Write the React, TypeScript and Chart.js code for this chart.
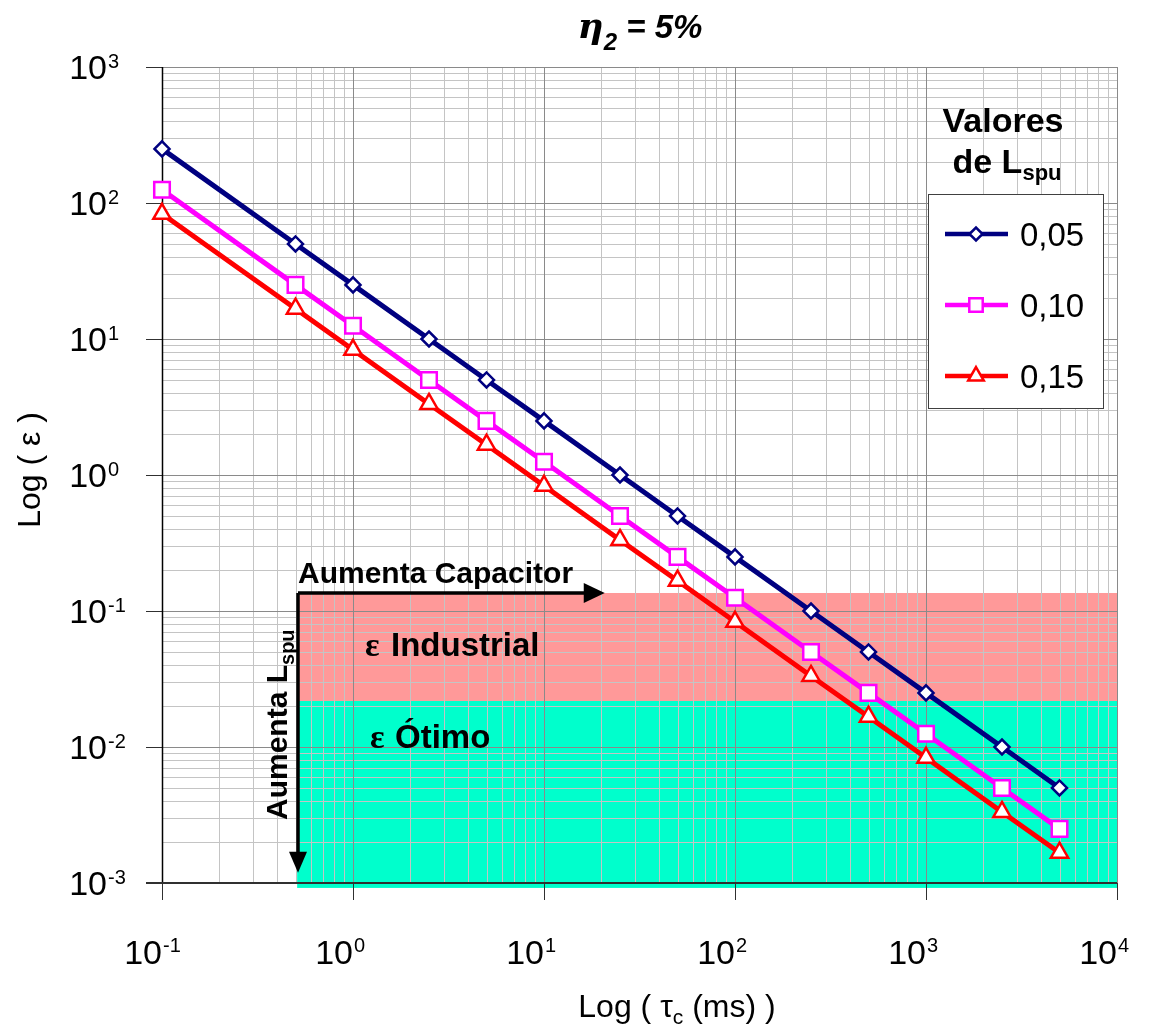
import React, { useEffect, useRef } from 'react';
import { Chart, registerables } from 'chart.js';
Chart.register(...registerables);

// ---- data ----
const tauMs = [0.1, 0.5, 1, 2.5, 5, 10, 25, 50, 100, 250, 500, 1000, 2500, 5000];
const eps005 = [250, 50, 25, 10, 5, 2.5, 1, 0.5, 0.25, 0.1, 0.05, 0.025, 0.01, 0.005];
const eps010 = [125, 25, 12.5, 5, 2.5, 1.25, 0.5, 0.25, 0.125, 0.05, 0.025, 0.0125, 0.005, 0.0025];
const eps015 = [83.3, 16.7, 8.33, 3.33, 1.67, 0.833, 0.333, 0.167, 0.0833, 0.0333, 0.0167, 0.00833, 0.00333, 0.00167];
const seriesLabels = ['0,05', '0,10', '0,15'];
const seriesColors = ['#000080', '#FF00FF', '#FF0000'];
const seriesMarkers = ['rectRot', 'rect', 'triangle'];
const xDecades = [-1, 0, 1, 2, 3, 4];
const yDecades = [-3, -2, -1, 0, 1, 2, 3];
// shaded regions (x from, x to) and (y low, y high)
const bandX = [0.51, 10000];
const industrialY = [0.0218, 0.1356];
const otimoY = [0.00092, 0.0218];
// arrow end points
const arrowCapEndX = 20.8;
const arrowLEndY = 0.00119;

const FONT = '"Liberation Sans", Arial, sans-serif';

function drawMarker(ctx: CanvasRenderingContext2D, style: string, x: number, y: number, r: number, color: string, bw: number) {
  ctx.save();
  ctx.beginPath();
  if (style === 'rectRot') {
    ctx.moveTo(x - r, y);
    ctx.lineTo(x, y - r);
    ctx.lineTo(x + r, y);
    ctx.lineTo(x, y + r);
    ctx.closePath();
  } else if (style === 'rect') {
    const h = r * Math.SQRT1_2;
    ctx.rect(x - h, y - h, 2 * h, 2 * h);
  } else {
    const w = r * Math.sin(Math.PI / 3);
    ctx.moveTo(x, y - r);
    ctx.lineTo(x + w, y + r / 2);
    ctx.lineTo(x - w, y + r / 2);
    ctx.closePath();
  }
  ctx.fillStyle = '#fff';
  ctx.fill();
  ctx.lineWidth = bw;
  ctx.strokeStyle = color;
  ctx.stroke();
  ctx.restore();
}

const decor = {
  id: 'decor',
  beforeDatasetsDraw(chart: any) {
    const { ctx, chartArea: ca, scales } = chart;
    const xs = scales.x, ys = scales.y;
    const X = (v: number) => xs.getPixelForValue(v);
    const Y = (v: number) => ys.getPixelForValue(v);
    const crisp = (p: number) => Math.round(p) + 0.5;
    ctx.save();

    // bands
    const bx0 = X(bandX[0]), bx1 = X(bandX[1]);
    ctx.fillStyle = '#FF9999';
    ctx.fillRect(bx0, Y(industrialY[1]), bx1 - bx0, Y(industrialY[0]) - Y(industrialY[1]));
    ctx.fillStyle = '#00FFCC';
    ctx.fillRect(bx0, Y(otimoY[1]), bx1 - bx0, Y(otimoY[0]) - Y(otimoY[1]));

    // minor grid
    ctx.lineWidth = 1;
    ctx.strokeStyle = '#c4c4c4';
    ctx.beginPath();
    for (let i = 0; i < xDecades.length - 1; i++) {
      for (let k = 2; k <= 9; k++) {
        const px = crisp(X(k * Math.pow(10, xDecades[i])));
        ctx.moveTo(px, ca.top);
        ctx.lineTo(px, ca.bottom);
      }
    }
    for (let i = 0; i < yDecades.length - 1; i++) {
      for (let k = 2; k <= 9; k++) {
        const py = crisp(Y(k * Math.pow(10, yDecades[i])));
        ctx.moveTo(ca.left, py);
        ctx.lineTo(ca.right, py);
      }
    }
    ctx.stroke();

    // major grid
    ctx.strokeStyle = '#8a8a8a';
    ctx.beginPath();
    xDecades.forEach((n) => {
      const px = crisp(X(Math.pow(10, n)));
      ctx.moveTo(px, ca.top);
      ctx.lineTo(px, ca.bottom);
    });
    yDecades.forEach((n) => {
      const py = crisp(Y(Math.pow(10, n)));
      ctx.moveTo(ca.left, py);
      ctx.lineTo(ca.right, py);
    });
    ctx.stroke();

    // tick marks
    ctx.strokeStyle = '#303030';
    ctx.beginPath();
    xDecades.forEach((n) => {
      const px = crisp(X(Math.pow(10, n)));
      ctx.moveTo(px, ca.bottom);
      ctx.lineTo(px, ca.bottom + 17);
    });
    yDecades.forEach((n) => {
      const py = crisp(Y(Math.pow(10, n)));
      ctx.moveTo(ca.left - 16, py);
      ctx.lineTo(ca.left, py);
    });
    ctx.stroke();

    // axes
    ctx.strokeStyle = '#000';
    ctx.lineWidth = 1.5;
    ctx.beginPath();
    ctx.moveTo(ca.left + 0.5, ca.top);
    ctx.lineTo(ca.left + 0.5, ca.bottom);
    ctx.stroke();
    ctx.strokeStyle = '#303030';
    ctx.lineWidth = 2;
    ctx.beginPath();
    ctx.moveTo(ca.left - 16, Math.round(ca.bottom));
    ctx.lineTo(ca.right, Math.round(ca.bottom));
    ctx.stroke();

    // tick labels
    ctx.fillStyle = '#000';
    ctx.textBaseline = 'alphabetic';
    xDecades.forEach((n) => {
      const px = X(Math.pow(10, n));
      ctx.font = `34px ${FONT}`;
      ctx.textAlign = 'right';
      ctx.fillText('10', px, 964);
      ctx.font = `20px ${FONT}`;
      ctx.textAlign = 'left';
      ctx.fillText(String(n), px + 1, 952);
    });
    yDecades.forEach((n) => {
      const py = Y(Math.pow(10, n));
      ctx.font = `34px ${FONT}`;
      ctx.textAlign = 'right';
      ctx.fillText('10', ca.left - 55, py + 12);
      ctx.font = `20px ${FONT}`;
      ctx.textAlign = 'left';
      ctx.fillText(String(n), ca.left - 54, py + 1);
    });

    // x axis title with subscript
    {
      const parts: [string, string, number][] = [
        ['Log ( \u03C4', `32px ${FONT}`, 0],
        ['c', `21px ${FONT}`, 7],
        [' (ms) )', `32px ${FONT}`, 0],
      ];
      let total = 0;
      parts.forEach(([t, f]) => { ctx.font = f; total += ctx.measureText(t).width; });
      let cx = 677 - total / 2;
      ctx.textAlign = 'left';
      parts.forEach(([t, f, dy]) => {
        ctx.font = f;
        ctx.fillText(t, cx, 1017 + dy);
        cx += ctx.measureText(t).width;
      });
    }
    // y axis title
    ctx.save();
    ctx.translate(40, 470);
    ctx.rotate(-Math.PI / 2);
    ctx.font = `32px ${FONT}`;
    ctx.textAlign = 'center';
    ctx.fillText('Log ( \u03B5 )', 0, 0);
    ctx.restore();

    // title
    {
      const parts: [string, string, number][] = [
        ['\u03B7', `italic bold 36px "DejaVu Serif", serif`, 0],
        ['2', `italic bold 24px ${FONT}`, 12],
        [' = 5%', `italic bold 33px ${FONT}`, 0],
      ];
      let total = 0;
      parts.forEach(([t, f]) => { ctx.font = f; total += ctx.measureText(t).width; });
      let cx = 640 - total / 2;
      ctx.textAlign = 'left';
      parts.forEach(([t, f, dy]) => {
        ctx.font = f;
        ctx.fillText(t, cx, 38 + dy);
        cx += ctx.measureText(t).width;
      });
    }

    // region labels
    ctx.textAlign = 'left';
    ctx.font = `bold 34px "Liberation Serif", serif`;
    ctx.fillText('\u03B5', 365, 656);
    ctx.fillText('\u03B5', 370, 748);
    ctx.font = `bold 33px ${FONT}`;
    ctx.fillText('Industrial', 391, 656);
    ctx.fillText('\u00D3timo', 395, 748);

    // arrows
    const ax0 = Math.round(bx0) + 1;
    const ay0 = Math.round(Y(industrialY[1]));
    const axEnd = X(arrowCapEndX);
    const ayEnd = Y(arrowLEndY);
    ctx.strokeStyle = '#000';
    ctx.fillStyle = '#000';
    ctx.lineWidth = 3.5;
    ctx.beginPath();
    ctx.moveTo(ax0, ay0);
    ctx.lineTo(axEnd - 18, ay0);
    ctx.moveTo(ax0, ay0);
    ctx.lineTo(ax0, ayEnd - 18);
    ctx.stroke();
    ctx.beginPath();
    ctx.moveTo(axEnd, ay0);
    ctx.lineTo(axEnd - 21, ay0 - 10);
    ctx.lineTo(axEnd - 21, ay0 + 10);
    ctx.closePath();
    ctx.fill();
    ctx.beginPath();
    ctx.moveTo(ax0, ayEnd);
    ctx.lineTo(ax0 - 9, ayEnd - 21);
    ctx.lineTo(ax0 + 9, ayEnd - 21);
    ctx.closePath();
    ctx.fill();

    ctx.font = `bold 30px ${FONT}`;
    ctx.fillText('Aumenta Capacitor', ax0, ay0 - 10);

    ctx.save();
    ctx.translate(ax0 - 11, 820);
    ctx.rotate(-Math.PI / 2);
    ctx.font = `bold 30px ${FONT}`;
    ctx.fillText('Aumenta L', 0, 0);
    const w = ctx.measureText('Aumenta L').width;
    ctx.font = `bold 20px ${FONT}`;
    ctx.fillText('spu', w, 7);
    ctx.restore();

    ctx.restore();
  },
  afterDatasetsDraw(chart: any) {
    const { ctx } = chart;
    ctx.save();
    // legend title
    ctx.fillStyle = '#000';
    ctx.textAlign = 'left';
    ctx.font = `bold 34px ${FONT}`;
    const w1 = ctx.measureText('Valores').width;
    ctx.fillText('Valores', 1003 - w1 / 2, 132);
    const wDe = ctx.measureText('de L').width;
    ctx.font = `bold 22px ${FONT}`;
    const wSpu = ctx.measureText('spu').width;
    const sx = 1007 - (wDe + wSpu) / 2;
    ctx.font = `bold 34px ${FONT}`;
    ctx.fillText('de L', sx, 173);
    ctx.font = `bold 22px ${FONT}`;
    ctx.fillText('spu', sx + wDe, 180);

    // legend box
    ctx.fillStyle = '#fff';
    ctx.fillRect(928.5, 194.5, 175, 214);
    ctx.strokeStyle = '#404040';
    ctx.lineWidth = 1;
    ctx.strokeRect(928.5, 194.5, 175, 214);
    const rows = [234, 305, 376];
    const radii = [6.5, 9.5, 9];
    rows.forEach((ry, i) => {
      ctx.strokeStyle = seriesColors[i];
      ctx.lineWidth = 4.5;
      ctx.beginPath();
      ctx.moveTo(945, ry);
      ctx.lineTo(1008, ry);
      ctx.stroke();
      drawMarker(ctx, seriesMarkers[i], 976, ry, radii[i], seriesColors[i], 2.5);
      ctx.fillStyle = '#000';
      ctx.font = `33px ${FONT}`;
      ctx.textAlign = 'left';
      ctx.fillText(seriesLabels[i], 1020, ry + 12);
    });
    ctx.restore();
  },
};

export default function App() {
  const ref = useRef<HTMLCanvasElement>(null);
  useEffect(() => {
    const series = [eps005, eps010, eps015];
    const radii = [7.5, 11, 10];
    const chart = new Chart(ref.current as HTMLCanvasElement, {
      type: 'line',
      data: {
        datasets: series.map((vals, i) => ({
          label: seriesLabels[i],
          data: tauMs.map((t, j) => ({ x: t, y: vals[j] })),
          borderColor: seriesColors[i],
          backgroundColor: '#fff',
          borderWidth: 5,
          pointStyle: seriesMarkers[i] as any,
          pointRadius: radii[i],
          pointBorderWidth: 2.5,
          pointBackgroundColor: '#fff',
          pointBorderColor: seriesColors[i],
          tension: 0,
          clip: false as any,
          order: 3 - i,
        })),
      },
      options: {
        responsive: false,
        animation: false,
        devicePixelRatio: 1,
        layout: { padding: { left: 162, right: 33, top: 67, bottom: 145 } },
        plugins: { legend: { display: false }, tooltip: { enabled: false } },
        scales: {
          x: { type: 'logarithmic', min: 0.1, max: 10000, display: false },
          y: { type: 'logarithmic', min: 0.001, max: 1000, display: false },
        },
      },
      plugins: [decor],
    });
    return () => chart.destroy();
  }, []);
  return (
    <div style={{ position: 'absolute', left: 0, top: 0, width: 1150, height: 1028, background: '#fff' }}>
      <canvas ref={ref} width={1150} height={1028} style={{ display: 'block', width: 1150, height: 1028 }} />
    </div>
  );
}
